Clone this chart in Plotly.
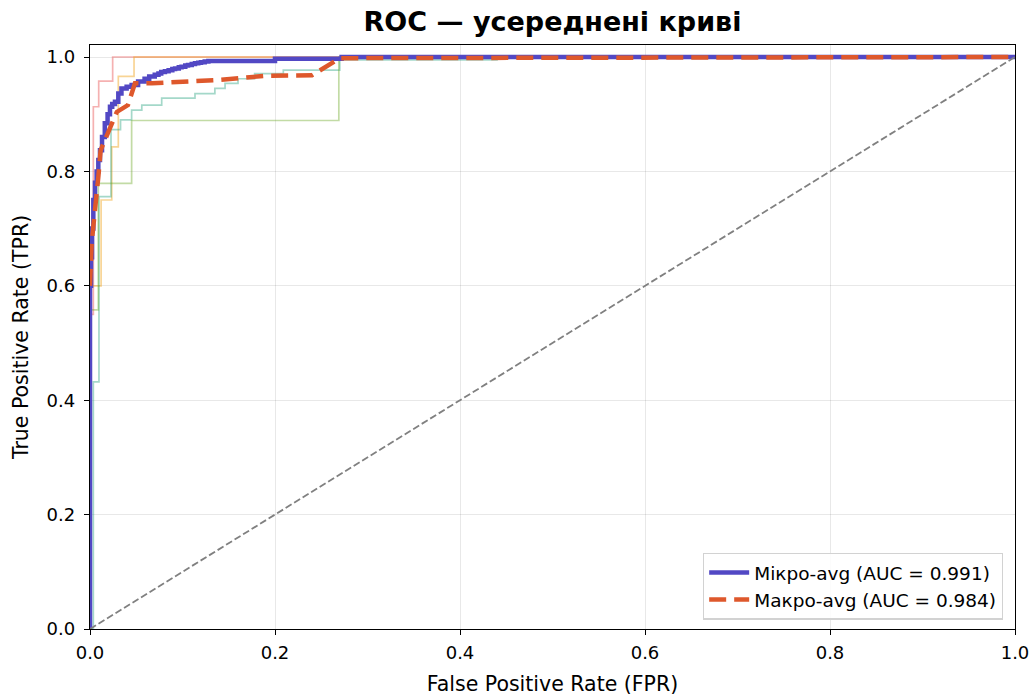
import plotly.graph_objects as go

# ---- data ----
class_a_fpr = [0.0, 0.0, 0.0036, 0.0036, 0.0094, 0.0094, 0.0245, 0.0245, 1.0]
class_a_tpr = [0.0, 0.55, 0.55, 0.913, 0.913, 0.958, 0.958, 1.0, 1.0]

class_b_fpr = [0.0, 0.0, 0.012, 0.012, 0.0235, 0.0235, 0.0306, 0.0306, 0.0476, 0.0476, 1.0]
class_b_tpr = [0.0, 0.60, 0.60, 0.75, 0.75, 0.843, 0.843, 0.966, 0.966, 1.0, 1.0]

class_c_fpr = [0.0, 0.0036, 0.0036, 0.0097, 0.0097, 0.0227, 0.0227, 0.033, 0.033, 0.045, 0.045,
               0.056, 0.056, 0.0775, 0.0775, 0.1135, 0.1135, 0.135, 0.135, 0.146, 0.146,
               0.16, 0.16, 0.178, 0.178, 0.209, 0.209, 0.27, 0.27, 0.44, 0.44, 1.0]
class_c_tpr = [0.0, 0.0, 0.432, 0.432, 0.756, 0.756, 0.873, 0.873, 0.89, 0.89, 0.907,
               0.907, 0.916, 0.916, 0.928, 0.928, 0.936, 0.936, 0.945, 0.945, 0.954,
               0.954, 0.962, 0.962, 0.971, 0.971, 0.977, 0.977, 0.995, 0.995, 1.0, 1.0]

class_d_fpr = [0.0, 0.0, 0.0012, 0.0012, 0.009, 0.009, 0.045, 0.045, 0.269, 0.269, 1.0]
class_d_tpr = [0.0, 0.30, 0.30, 0.558, 0.558, 0.779, 0.779, 0.889, 0.889, 1.0, 1.0]

micro_fpr = [0.0, 0.0, 0.0011, 0.0022, 0.0036, 0.0054, 0.0072, 0.009, 0.0108, 0.013, 0.016,
             0.019, 0.0216, 0.024, 0.027, 0.0306, 0.034, 0.0396, 0.045, 0.052, 0.059,
             0.064, 0.070, 0.074, 0.077, 0.081, 0.085, 0.089, 0.092, 0.096, 0.099, 0.103,
             0.106, 0.110, 0.1135, 0.117, 0.120, 0.124, 0.128, 0.20, 0.272, 1.0]
micro_tpr = [0.0, 0.60, 0.65, 0.70, 0.75, 0.78, 0.80, 0.82, 0.837, 0.86, 0.884,
             0.90, 0.913, 0.918, 0.922, 0.936, 0.945, 0.948, 0.951, 0.957, 0.962,
             0.966, 0.969, 0.971, 0.974, 0.975, 0.977, 0.979, 0.980, 0.982, 0.983, 0.985,
             0.986, 0.988, 0.989, 0.990, 0.991, 0.992, 0.993, 0.997, 1.0, 1.0]

macro_fpr = [0.0, 0.0018, 0.0054, 0.0072, 0.009, 0.0115, 0.016, 0.0235, 0.029, 0.041, 0.045,
             0.0486, 0.067, 0.103, 0.139, 0.189, 0.24, 0.27, 1.0]
macro_tpr = [0.60, 0.675, 0.733, 0.756, 0.79, 0.837, 0.855, 0.884, 0.904, 0.916, 0.936,
             0.954, 0.954, 0.957, 0.96, 0.967, 0.968, 0.998, 1.0]

diag = [0.0, 1.0]

micro_label = "Мікро-avg (AUC = 0.991)"
macro_label = "Макро-avg (AUC = 0.984)"
title_text = "ROC — усереднені криві"
x_title = "False Positive Rate (FPR)"
y_title = "True Positive Rate (TPR)"
tick_vals = [0.0, 0.2, 0.4, 0.6, 0.8, 1.0]
tick_text = ["0.0", "0.2", "0.4", "0.6", "0.8", "1.0"]

FONT = "DejaVu Sans"

fig = go.Figure()

for fx, ty, col in [
    (class_a_fpr, class_a_tpr, "rgba(230,60,60,0.40)"),
    (class_b_fpr, class_b_tpr, "rgba(240,160,20,0.45)"),
    (class_c_fpr, class_c_tpr, "rgba(27,158,119,0.40)"),
    (class_d_fpr, class_d_tpr, "rgba(102,166,30,0.40)"),
]:
    fig.add_trace(go.Scatter(x=fx, y=ty, mode="lines", showlegend=False,
                             hoverinfo="skip", line=dict(color=col, width=1.7)))

fig.add_trace(go.Scatter(x=micro_fpr, y=micro_tpr, mode="lines", name=micro_label,
                         line=dict(color="rgb(82,72,196)", width=4.5, shape="hv")))
fig.add_trace(go.Scatter(x=macro_fpr, y=macro_tpr, mode="lines", name=macro_label,
                         line=dict(color="rgb(222,88,44)", width=4.5, dash="17px,8px")))
fig.add_trace(go.Scatter(x=diag, y=diag, mode="lines", showlegend=False,
                         line=dict(color="rgb(128,128,128)", width=1.8, dash="7px,3px")))

axis_common = dict(
    showline=True, mirror=True, linecolor="black", linewidth=1.3,
    ticks="outside", ticklen=5, tickwidth=1.3, tickcolor="black",
    showgrid=True, gridcolor="rgba(0,0,0,0.09)", gridwidth=1.2,
    zeroline=False, tickvals=tick_vals, ticktext=tick_text, automargin=False,
    tickfont=dict(family=FONT, size=18, color="black"),
)

fig.update_layout(
    width=1035, height=697,
    paper_bgcolor="white", plot_bgcolor="white",
    margin=dict(l=90, r=20, t=45, b=68, autoexpand=False),
    title=dict(text="<b>" + title_text + "</b>", xref="paper", x=0.5, xanchor="center",
               y=1 - 22 / 697, yanchor="middle",
               font=dict(family=FONT, size=27, color="black")),
    xaxis=dict(range=[0, 1.0], ticklabelstandoff=2,
               title=dict(text=x_title, standoff=14,
                          font=dict(family=FONT, size=20.5, color="black")), **axis_common),
    yaxis=dict(range=[0, 1.021], ticklabelstandoff=5,
               title=dict(text=y_title, standoff=12,
                          font=dict(family=FONT, size=20.5, color="black")), **axis_common),
    legend=dict(x=0.987, xanchor="right", y=0.016, yanchor="bottom",
                bgcolor="rgba(255,255,255,0.85)", bordercolor="rgb(210,210,210)",
                borderwidth=1.2, itemwidth=40,
                font=dict(family=FONT, size=18.5, color="black")),
    font=dict(family=FONT),
)

fig.write_html("out.html", config={"displayModeBar": False},
               post_script="document.body.style.margin='0';document.body.style.overflow='hidden';")
